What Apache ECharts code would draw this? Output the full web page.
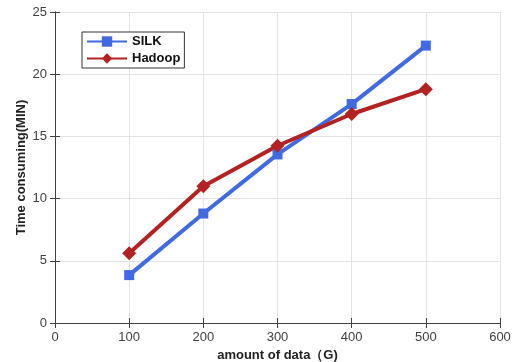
<!DOCTYPE html>
<html>
<head>
<meta charset="utf-8">
<script src="https://cdn.jsdelivr.net/npm/echarts@6/dist/echarts.min.js"></script>
<style>
  html, body { margin: 0; padding: 0; background: #fff; }
  #chart { width: 519px; height: 362px; }
</style>
</head>
<body>
<div id="chart"></div>
<script>
const dataSize = [100, 200, 300, 400, 500];
const silk = [3.85, 8.8, 13.55, 17.6, 22.3];
const hadoop = [5.6, 11.0, 14.25, 16.8, 18.8];

const chart = echarts.init(document.getElementById('chart'));

const font = 'Liberation Sans, Arial, sans-serif';
const boxLine = { show: true, lineStyle: { color: '#404040', width: 1 } };
const tickIn = { show: true, inside: true, length: 5, lineStyle: { color: '#404040' } };
const grid = { show: true, lineStyle: { color: '#e3e3e3', width: 1 } };

const option = {
    animation: false,
    grid: { left: 55, right: 19, top: 12, bottom: 39, outerBoundsMode: 'none' },
    legend: {
        left: 82,
        top: 32,
        orient: 'vertical',
        itemWidth: 40,
        itemHeight: 13,
        itemGap: 4,
        padding: [3, 4, 3, 4],
        borderColor: '#333',
        borderWidth: 1,
        backgroundColor: '#fff',
        textStyle: { fontFamily: font, fontWeight: 'bold', fontSize: 13, color: '#111' },
        data: ['SILK', 'Hadoop']
    },
    xAxis: [
        {
            type: 'value', min: 0, max: 600, interval: 100,
            name: 'amount of data（G)',
            nameLocation: 'middle', nameGap: 22,
            nameTextStyle: { fontFamily: font, fontWeight: 'bold', fontSize: 13, color: '#222' },
            axisLine: boxLine, axisTick: tickIn, splitLine: grid,
            axisLabel: { fontFamily: font, fontSize: 13, color: '#404040', margin: 8 }
        },
        {
            type: 'value', min: 0, max: 600, interval: 100, position: 'top',
            axisLine: boxLine, axisTick: tickIn, splitLine: { show: false },
            axisLabel: { show: false }
        }
    ],
    yAxis: [
        {
            type: 'value', min: 0, max: 25, interval: 5,
            name: 'Time consuming(MIN)',
            nameLocation: 'middle', nameGap: 27,
            nameMoveOverlap: false,
            nameTextStyle: { fontFamily: font, fontWeight: 'bold', fontSize: 13, color: '#222' },
            axisLine: boxLine, axisTick: tickIn, splitLine: grid,
            axisLabel: { fontFamily: font, fontSize: 13, color: '#404040', margin: 8 }
        },
        {
            type: 'value', min: 0, max: 25, interval: 5, position: 'right',
            axisLine: boxLine, axisTick: tickIn, splitLine: { show: false },
            axisLabel: { show: false }
        }
    ],
    series: [
        {
            name: 'SILK',
            type: 'line',
            data: dataSize.map((x, i) => [x, silk[i]]),
            symbol: 'rect',
            symbolSize: 10,
            color: '#4169e1',
            lineStyle: { width: 4, color: '#4169e1' },
            itemStyle: { color: '#4169e1' }
        },
        {
            name: 'Hadoop',
            type: 'line',
            data: dataSize.map((x, i) => [x, hadoop[i]]),
            symbol: 'diamond',
            symbolSize: 14,
            color: '#b22222',
            lineStyle: { width: 4, color: '#b22222' },
            itemStyle: { color: '#b22222' }
        }
    ]
};

chart.setOption(option);
</script>
</body>
</html>
